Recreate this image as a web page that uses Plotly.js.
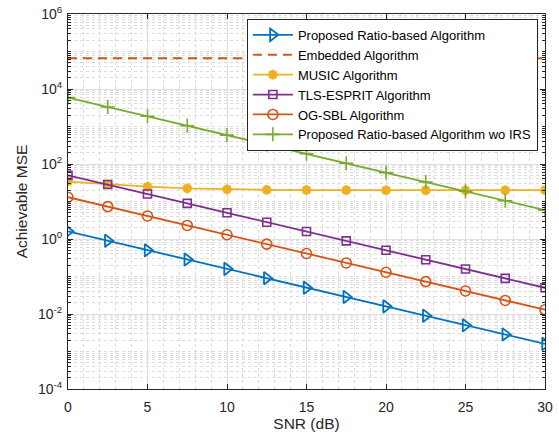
<!DOCTYPE html>
<html><head><meta charset="utf-8">
<script src="https://cdn.plot.ly/plotly-3.0.1.min.js"></script>
<style>html,body{margin:0;padding:0;background:#fff}#plot{width:559px;height:437px}</style>
</head><body><div id="plot"></div>
<script>
const snr = [0, 2.5, 5, 7.5, 10, 12.5, 15, 17.5, 20, 22.5, 25, 27.5, 30];
const proposed = [1.6, 0.9, 0.5, 0.285, 0.16, 0.09, 0.05, 0.0285, 0.016, 0.009, 0.005, 0.00285, 0.0016];
const embedded = [66000, 66000, 66000, 66000, 66000, 66000, 66000, 66000, 66000, 66000, 66000, 66000, 66000];
const music = [34, 28.5, 24.8, 22.4, 21.1, 20.4, 20.2, 20.1, 20, 20, 20, 20, 20];
const tlsEsprit = [50, 28.5, 15.8, 8.9, 5, 2.8, 1.58, 0.89, 0.5, 0.28, 0.158, 0.089, 0.05];
const ogSbl = [13, 7.3, 4.1, 2.3, 1.3, 0.73, 0.41, 0.23, 0.13, 0.073, 0.041, 0.023, 0.013];
const woIrs = [5900, 3300, 1870, 1050, 590, 330, 187, 105, 59, 33, 18.7, 10.5, 5.9];
const names = ['Proposed Ratio-based Algorithm', 'Embedded Algorithm', 'MUSIC Algorithm',
  'TLS-ESPRIT Algorithm', 'OG-SBL Algorithm', 'Proposed Ratio-based Algorithm wo IRS'];
const yTickVals = [1e-4, 1e-2, 1, 1e2, 1e4, 1e6];
const yTickText = ['10<sup>-4</sup>', '10<sup>-2</sup>', '10<sup>0</sup>', '10<sup>2</sup>', '10<sup>4</sup>', '10<sup>6</sup>'];

const LW = 1.8;
const traces = [
  {x: snr, y: proposed, name: names[0], mode: 'lines+markers',
   line: {color: '#0072BD', width: LW},
   marker: {symbol: 'triangle-right-open', size: 11, color: '#0072BD', line: {width: 1.8}}},
  {x: snr, y: embedded, name: names[1], mode: 'lines',
   line: {color: '#D95319', width: LW, dash: '9px,6px'}},
  {x: snr, y: music, name: names[2], mode: 'lines+markers',
   line: {color: '#EDB120', width: LW},
   marker: {symbol: 'asterisk-open', size: 8, color: '#EDB120', line: {width: 3, color: '#EDB120'}}},
  {x: snr, y: tlsEsprit, name: names[3], mode: 'lines+markers',
   line: {color: '#7E2F8E', width: LW},
   marker: {symbol: 'square-open', size: 8, color: '#7E2F8E', line: {width: 1.6}}},
  {x: snr, y: ogSbl, name: names[4], mode: 'lines+markers',
   line: {color: '#D95319', width: LW},
   marker: {symbol: 'circle-open', size: 10, color: '#D95319', line: {width: 1.6}}},
  {x: snr, y: woIrs, name: names[5], mode: 'lines+markers',
   line: {color: '#77AC30', width: LW},
   marker: {symbol: 'cross-thin-open', size: 10, color: '#77AC30', line: {width: 1.6, color: '#77AC30'}}}
];

const FONT = 'Liberation Sans, Arial, sans-serif';
const axCommon = {
  showline: true, linecolor: '#262626', linewidth: 1, mirror: 'ticks',
  ticks: 'inside', ticklen: 5, tickcolor: '#262626',
  gridcolor: '#E0E0E0', gridwidth: 1, zeroline: false,
  tickfont: {family: FONT, size: 14, color: '#262626'}
};

const layout = {
  width: 559, height: 437,
  margin: {l: 68, r: 14, t: 14, b: 48},
  paper_bgcolor: '#fff', plot_bgcolor: '#fff',
  font: {family: FONT, color: '#262626'},
  showlegend: true,
  xaxis: Object.assign({}, axCommon, {
    range: [0, 30], dtick: 5, tick0: 0, ticklabelstandoff: 5,
    title: {text: 'SNR (dB)', font: {size: 15.5, color: '#262626'}, standoff: 4},
    minor: {dtick: 1, showgrid: true, gridcolor: '#DCDCDC', griddash: 'dot', gridwidth: 1, ticks: ''}
  }),
  yaxis: Object.assign({}, axCommon, {
    type: 'log', range: [-4, 6], tickmode: 'array', tickvals: yTickVals, ticktext: yTickText,
    ticklabelstandoff: 2,
    title: {text: 'Achievable MSE', font: {size: 15.5, color: '#262626'}, standoff: 6},
    minor: {dtick: 'D1', showgrid: true, gridcolor: '#DCDCDC', griddash: 'dot', gridwidth: 1, ticks: 'inside', ticklen: 3, tickcolor: '#262626'}
  }),
  legend: {
    x: 0.375, y: 0.987, xanchor: 'left', yanchor: 'top',
    bgcolor: '#fff', bordercolor: '#262626', borderwidth: 1,
    font: {family: FONT, size: 13, color: '#000'},
    tracegroupgap: 0, itemwidth: 40
  }
};

Plotly.newPlot('plot', traces, layout, {displayModeBar: false, staticPlot: true});
</script>
</body></html>
